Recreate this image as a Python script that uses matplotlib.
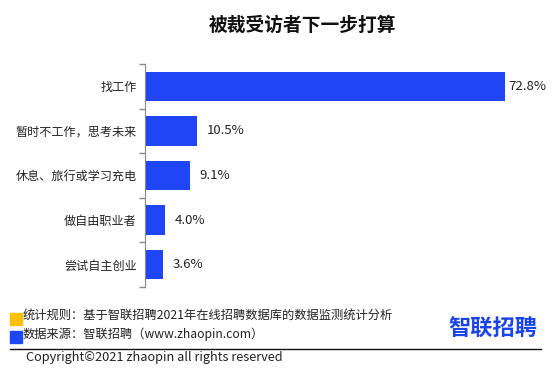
import matplotlib
matplotlib.use('Agg')
import matplotlib.pyplot as plt
from matplotlib.patches import Rectangle
from matplotlib.lines import Line2D

plt.rcParams['font.family'] = ['Noto Sans CJK SC', 'DejaVu Sans']

categories = ['找工作', '暂时不工作，思考未来', '休息、旅行或学习充电', '做自由职业者', '尝试自主创业']
values = [72.8, 10.5, 9.1, 4.0, 3.6]

title = '被裁受访者下一步打算'
note_rule = '统计规则：基于智联招聘2021年在线招聘数据库的数据监测统计分析'
note_source = '数据来源：智联招聘（www.zhaopin.com）'
copyright_text = 'Copyright©2021 zhaopin all rights reserved'
logo_text = '智联招聘'

W, H = 554, 376
bar_color = '#1f45f5'

fig = plt.figure(figsize=(W / 100, H / 100), dpi=100)
ax = fig.add_axes([145 / W, 1 - 287 / H, 396 / W, 223 / H])

ypos = list(range(len(categories)))
ax.barh(ypos, values, height=0.66, color=bar_color)
ax.set_ylim(len(categories) - 0.5, -0.5)
ax.set_xlim(0, 80)

ax.set_yticks(ypos)
ax.set_yticklabels(categories, fontsize=8.7, color='#222222')
ax.tick_params(axis='y', which='major', length=0, pad=6)
ax.set_yticks([i - 0.5 for i in range(len(categories) + 1)], minor=True)
ax.tick_params(axis='y', which='minor', length=4, color='#888888', width=1)
ax.set_xticks([])

for s in ['top', 'right', 'bottom']:
    ax.spines[s].set_visible(False)
ax.spines['left'].set_color('#888888')

for i, v in enumerate(values):
    pad = 2 if v > 70 else 7
    ax.annotate(f'{v:.1f}%', xy=(v, i), xytext=(pad, 0), textcoords='offset points',
                va='center', ha='left', fontsize=9.5, color='#222222')

fig.text(302 / W, 1 - 25 / H, title, ha='center', va='center', fontsize=13.5,
         fontweight='bold', color='#111111')

# footer
fig.patches.append(Rectangle((10 / W, 1 - 325 / H), 12 / W, 12 / H, transform=fig.transFigure,
                             color='#ffc000', figure=fig))
fig.patches.append(Rectangle((10 / W, 1 - 343 / H), 12 / W, 12 / H, transform=fig.transFigure,
                             color=bar_color, figure=fig))
fig.text(23 / W, 1 - 315 / H, note_rule, ha='left', va='center', fontsize=8.8, color='#222222')
fig.text(23 / W, 1 - 334 / H, note_source, ha='left', va='center', fontsize=8.8, color='#222222')
fig.text(493 / W, 1 - 329 / H, logo_text, ha='center', va='center', fontsize=16,
         fontweight='bold', color='#1a44e8')
fig.lines.append(Line2D([10 / W, 541 / W], [1 - 349 / H, 1 - 349 / H], transform=fig.transFigure,
                        color='#111111', linewidth=1))
fig.text(26 / W, 1 - 358 / H, copyright_text, ha='left', va='center', fontsize=9.2, color='#222222')

fig.savefig('out.png', dpi=100)
